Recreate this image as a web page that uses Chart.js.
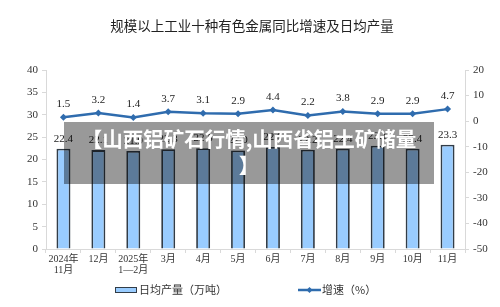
<!DOCTYPE html>
<html><head><meta charset="utf-8">
<script src="https://cdn.jsdelivr.net/npm/chart.js@4"></script>
<style>
html,body{margin:0;padding:0;background:#fff;}
#wrap{position:relative;width:500px;height:307px;}
#wm{position:absolute;left:64px;top:122px;width:370px;height:62px;background:rgba(0,0,0,0.4);color:#fff;
font:bold 20.5px "Noto Sans CJK SC",sans-serif;letter-spacing:0;text-align:center;line-height:26px;padding:3px 0 0 0;box-sizing:border-box;white-space:nowrap;}
</style></head>
<body>
<div id="wrap"><canvas id="c" width="500" height="307"></canvas>
<div id="wm">【山西铝矿石行情,山西省铝土矿储量<br>】</div></div>
<script>
const titleText = "规模以上工业十种有色金属同比增速及日均产量";
const categories = [["2024年","11月"],"12月",["2025年","1—2月"],"3月","4月","5月","6月","7月","8月","9月","10月","11月"];
const outputValues = [22.4,22.1,21.9,22.3,22.5,22.0,22.8,22.2,22.4,23.1,22.4,23.3];
const growthValues = [1.5,3.2,1.4,3.7,3.1,2.9,4.4,2.2,3.8,2.9,2.9,4.7];
const leftTicks = [0,5,10,15,20,25,30,35,40];
const rightTicks = [-50,-40,-30,-20,-10,0,10,20];
const seriesNames = ["日均产量（万吨）","增速（%）"];

const serif = '"Liberation Serif","Times New Roman","Noto Sans CJK SC",serif';
const sans = '"Noto Sans CJK SC",sans-serif';
const barFill = '#99ccff', barBorder = '#323d48', lineColor = '#2f6cae';

const extras = {
  id:'extras',
  afterDatasetsDraw(chart){
    const ctx = chart.ctx;
    ctx.save();
    ctx.font = '11px '+serif;
    ctx.fillStyle = '#222';
    ctx.textAlign = 'center';
    ctx.textBaseline = 'middle';
    chart.getDatasetMeta(0).data.forEach((el,i)=>{
      ctx.fillText(outputValues[i].toFixed(1), el.x, el.y-10);
    });
    chart.getDatasetMeta(1).data.forEach((el,i)=>{
      ctx.fillText(growthValues[i].toFixed(1), el.x, el.y-13);
    });
    ctx.restore();
  },
  afterDraw(chart){
    const ctx = chart.ctx;
    ctx.save();
    ctx.fillStyle = '#222';
    ctx.font = '13.5px '+sans;
    ctx.textAlign = 'center';
    ctx.textBaseline = 'middle';
    ctx.fillText(titleText, 252, 26);
    const ly = 290;
    ctx.fillStyle = barFill;
    ctx.fillRect(115, ly-3, 22, 6);
    ctx.strokeStyle = barBorder; ctx.lineWidth = 1;
    ctx.strokeRect(115.5, ly-2.5, 21, 5);
    ctx.fillStyle = '#333';
    ctx.font = '11px '+sans;
    ctx.textAlign = 'left';
    ctx.fillText(seriesNames[0], 139, ly);
    ctx.strokeStyle = lineColor; ctx.lineWidth = 2.5;
    ctx.beginPath(); ctx.moveTo(298, ly); ctx.lineTo(321, ly); ctx.stroke();
    ctx.fillStyle = lineColor;
    ctx.beginPath(); ctx.moveTo(309.5, ly-3); ctx.lineTo(312.5, ly); ctx.lineTo(309.5, ly+3); ctx.lineTo(306.5, ly); ctx.closePath(); ctx.fill();
    ctx.fillStyle = '#333';
    ctx.fillText(seriesNames[1], 322, ly);
    ctx.restore();
  }
};

new Chart(document.getElementById('c'), {
  data:{
    labels: categories,
    datasets:[
      {type:'bar', label:seriesNames[0], data:outputValues, yAxisID:'y', backgroundColor:barFill, borderColor:barBorder, borderWidth:1.8, barPercentage:0.4, categoryPercentage:1, order:2},
      {type:'line', label:seriesNames[1], data:growthValues, yAxisID:'y1', borderColor:lineColor, backgroundColor:lineColor, borderWidth:2.5, pointStyle:'rectRot', pointRadius:3.5, pointBorderWidth:0, tension:0, order:1}
    ]
  },
  options:{
    responsive:false, animation:false,
    layout:{padding:{top:70,left:0,right:0,bottom:0}},
    plugins:{legend:{display:false}, title:{display:false}, tooltip:{enabled:false}},
    scales:{
      x:{
        grid:{display:true, drawOnChartArea:false, drawTicks:true, tickLength:4, color:'#d9d9d9', offset:true},
        border:{color:'#d9d9d9'},
        ticks:{font:{family:serif,size:10,lineHeight:1.1}, color:'#333', padding:1, maxRotation:0, autoSkip:false},
        afterFit(s){ s.height = 58; }
      },
      y:{
        position:'left', min:0, max:40,
        afterBuildTicks(s){ s.ticks = leftTicks.map(v=>({value:v})); },
        grid:{drawOnChartArea:false, tickLength:4, color:'#d9d9d9'},
        border:{color:'#d9d9d9'},
        ticks:{font:{family:serif,size:11}, color:'#333', padding:4},
        afterFit(s){ s.width = 46; }
      },
      y1:{
        position:'right', min:-50, max:20,
        afterBuildTicks(s){ s.ticks = rightTicks.map(v=>({value:v})); },
        grid:{drawOnChartArea:false, tickLength:4, color:'#d9d9d9'},
        border:{color:'#d9d9d9'},
        ticks:{font:{family:serif,size:11}, color:'#333', padding:4},
        afterFit(s){ s.width = 35; }
      }
    }
  },
  plugins:[extras]
});
</script>
</body></html>
